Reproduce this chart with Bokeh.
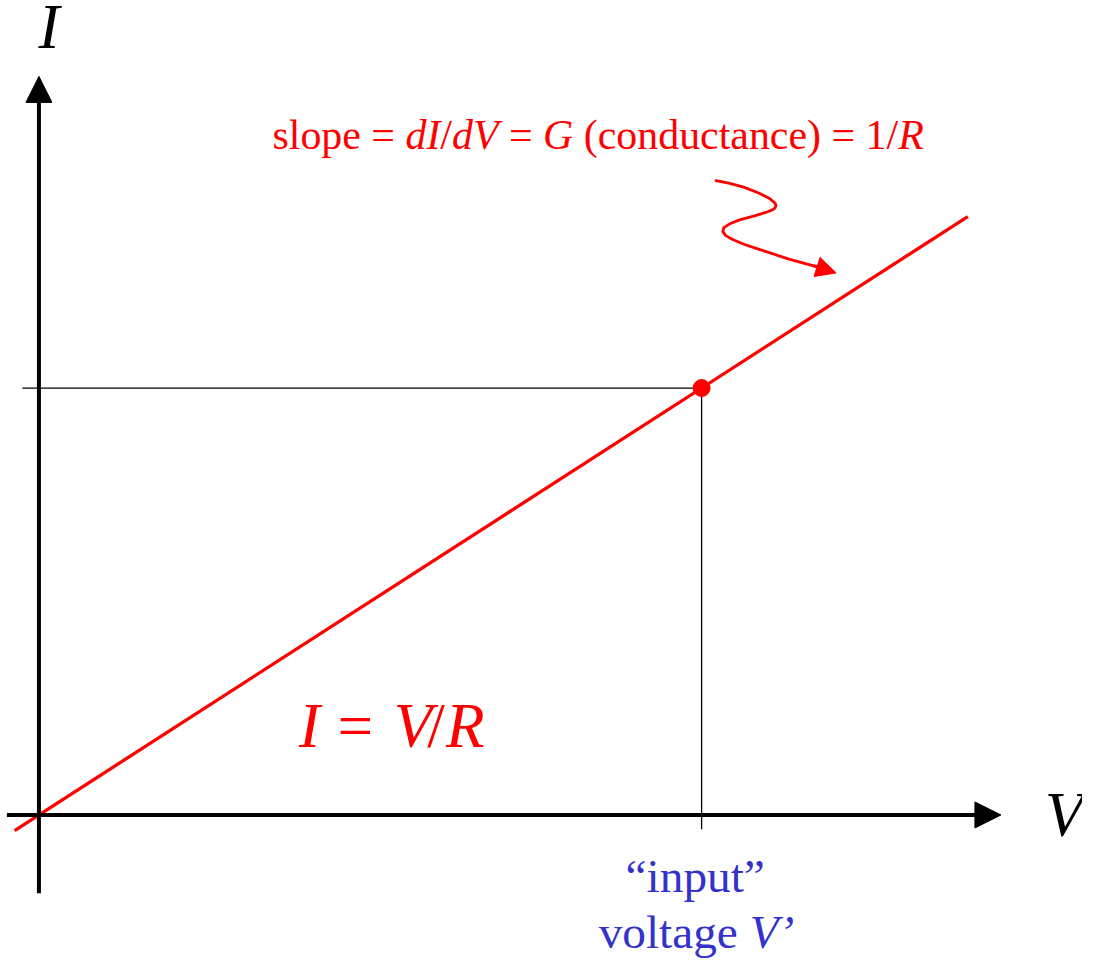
from bokeh.plotting import figure
from bokeh.models import Range1d, Arrow, NormalHead
from bokeh.core.properties import value
from bokeh.embed import file_html
from bokeh.resources import INLINE

# ---------------- data ----------------
R_ohm = 2.0                      # resistance
v_line = [-0.22, 8.41]           # V values of the I = V/R line (ends)
i_line = [-0.11, 4.205]          # I values of the line (ends)
v_op = [6.0]                     # "input" voltage V'
i_op = [3.0]                     # resulting current
v_axis = [-0.29, 8.71]           # extent of V axis
i_axis = [-0.55, 5.19]           # extent of I axis
guide_v_left = -0.15             # left end of horizontal guide
guide_i_bottom = -0.10           # bottom end of vertical guide
# squiggle pointer (V, I) points
sq_v = [6.130, 6.255, 6.388, 6.522, 6.611, 6.665, 6.674, 6.656, 6.594, 6.478, 6.344,
        6.255, 6.201, 6.192, 6.219, 6.281, 6.388, 6.522, 6.790, 7.058]
sq_i = [4.458, 4.438, 4.410, 4.369, 4.334, 4.300, 4.279, 4.258, 4.237, 4.210, 4.182,
        4.154, 4.127, 4.099, 4.071, 4.044, 4.009, 3.975, 3.906, 3.850]
sq_tip = (7.218, 3.809)

# ---------------- layout helpers ----------------
KX, KY = 112.08, 144.67          # reference pixels per unit
OX, OY = 39.0, 828.0             # origin position in reference pixels
REF_W, REF_H = 1098, 977
BASE_SHIFT = 0.38                # empirical baseline correction (em)

def X(px):
    return (px - OX) / KX

def Y(py):
    return (OY - py) / KY

W = 1082
H = 961
SC = W / REF_W                   # text size scaling

p = figure(width=W, height=H, output_backend="svg", toolbar_location=None,
           x_range=Range1d(X(0), X(REF_W)), y_range=Range1d(Y(REF_H), Y(0)),
           x_axis_type=None, y_axis_type=None, min_border=0,
           outline_line_color=None, background_fill_color="white",
           border_fill_color="white")
p.grid.visible = False

RED = "#FF0000"
BLUE = "#3333CC"
FONT = value("Liberation Serif")

def fs(size):
    return f"{size * SC:.1f}px"

def put(tok, px, baseline, size, italic, color, align="left"):
    p.text(x=[X(px)], y=[Y(baseline - BASE_SHIFT * size)], text=[tok], text_font=FONT,
           text_font_size=fs(size), text_font_style="italic" if italic else "normal",
           text_color=color, text_align=align, text_baseline="alphabetic")

# axes with arrow heads
p.add_layout(Arrow(end=NormalHead(size=26, fill_color="black", line_color="black", line_width=1),
                   x_start=v_axis[0], y_start=0, x_end=v_axis[1], y_end=0,
                   line_width=4, line_color="black"))
p.add_layout(Arrow(end=NormalHead(size=26, fill_color="black", line_color="black", line_width=1),
                   x_start=0, y_start=i_axis[0], x_end=0, y_end=i_axis[1],
                   line_width=4, line_color="black"))

# guides
p.line([guide_v_left, v_op[0]], [i_op[0], i_op[0]], line_color="black", line_width=1.3)
p.line([v_op[0], v_op[0]], [i_op[0], guide_i_bottom], line_color="black", line_width=1.3)

# I = V/R line
p.line(v_line, i_line, line_color=RED, line_width=3.3)
p.scatter(v_op, i_op, marker="circle", size=17, fill_color=RED, line_color=RED)

# squiggle pointer
p.line(sq_v, sq_i, line_color=RED, line_width=2.8, line_join="round", line_cap="round")
p.add_layout(Arrow(end=NormalHead(size=20, fill_color=RED, line_color=RED, line_width=1),
                   x_start=sq_v[-1] - 0.05, y_start=sq_i[-1] + 0.01,
                   x_end=sq_tip[0], y_end=sq_tip[1], line_width=2.8, line_color=RED))

# ---------------- text ----------------
REG = {" ": .25, "=": .564, "/": .278, "(": .333, ")": .333, "s": .389, "l": .278,
       "o": .5, "p": .5, "e": .444, "c": .444, "n": .5, "d": .5, "u": .5, "t": .278,
       "a": .444, "1": .5, "i": .278, "v": .5, "g": .5, "\u201c": .444, "\u201d": .444,
       "\u2019": .333}
ITA = {"d": .5, "I": .333, "V": .611, "G": .722, "R": .611, "\u2019": .333}

def adv(tok, italic, size):
    tab = ITA if italic else REG
    return sum(tab.get(ch, .5) for ch in tok) * size

def runs(tokens, x0, baseline, size, color):
    x = x0
    for tok, italic in tokens:
        if tok.strip():
            put(tok, x, baseline, size, italic, color)
        x += adv(tok, italic, size)

# slope annotation
runs([("slope", False), (" ", False), ("=", False), (" ", False), ("dI", True), ("/", False),
      ("dV", True), (" ", False), ("=", False), (" ", False), ("G", True), (" ", False),
      ("(conductance)", False), (" ", False), ("=", False), (" ", False), ("1/", False),
      ("R", True)], 276, 153, 42.5, RED)

# I = V/R label (pieces placed individually)
for tok, it, px in [("I", True, 303), ("=", False, 342), ("V", True, 399), ("/", False, 433), ("R", True, 452)]:
    put(tok, px, 762, 64, it, RED)

# axis names
put("I", 38.5, 51, 64, True, "black")
put("V", 1060, 852, 64, True, "black")

# input voltage label
put("\u201cinput\u201d", 705, 908, 48, False, BLUE, align="center")
runs([("voltage", False), (" ", False), ("V\u2019", True)], 607, 965, 48, BLUE)

open("out.html", "w").write(file_html(p, INLINE))
